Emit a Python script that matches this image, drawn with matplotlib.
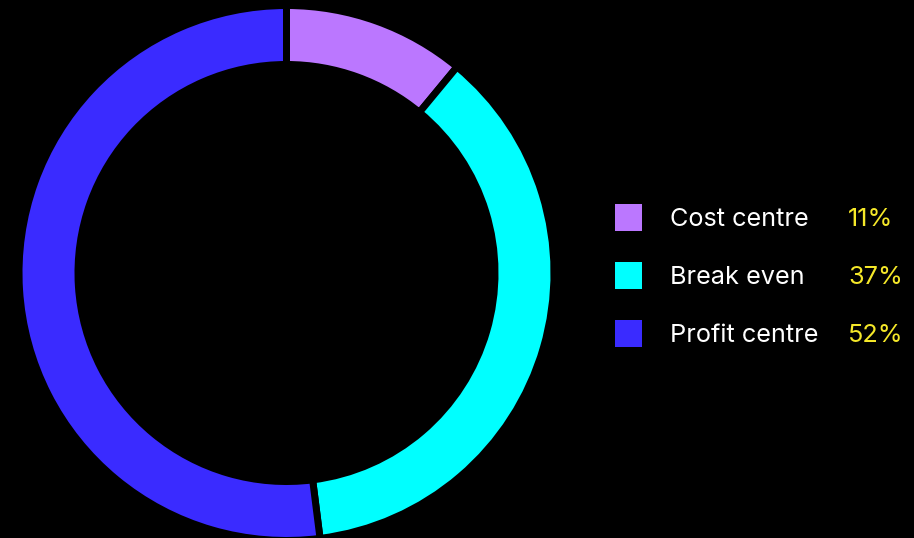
import matplotlib
matplotlib.use("Agg")
import matplotlib.pyplot as plt
from matplotlib.patches import Rectangle

categories = ["Cost centre", "Break even", "Profit centre"]
shares = [11, 37, 52]
colors = ["#BB77FF", "#00FFFF", "#3A2BFF"]
label_color = "#F5E829"

W, H = 914, 538
fig = plt.figure(figsize=(W / 100, H / 100), dpi=100, facecolor="black")
ax = fig.add_axes([0, 0, 1, 1])
ax.set_facecolor("black")

# donut, clockwise from 12 o'clock; thick black edges make the separating gaps
gap = 7  # px
edge_pt = gap * 72 / 100
cx, cy = 286.5, 273
r_out = 264 + gap / 2
r_in = 212 - gap / 2
# y axis is inverted, so counterclock=True turns clockwise on screen
ax.pie(shares, colors=colors, startangle=-90, counterclock=True,
       center=(cx, cy), radius=r_out, frame=True,
       wedgeprops=dict(width=r_out - r_in, edgecolor="black", linewidth=edge_pt))
ax.set_xlim(0, W)
ax.set_ylim(H, 0)
ax.set_aspect("equal")
ax.set_axis_off()

# legend rows
font = "Inter"
row_y = [217.5, 275.5, 333.5]
sq = 27
for name, val, col, y in zip(categories, shares, colors, row_y):
    ax.add_patch(Rectangle((615, y - sq / 2), sq, sq, facecolor=col, edgecolor="none"))
    ax.text(670, y, name, color="white", fontsize=18.2, family=font,
            va="center_baseline", ha="left")
    ax.text(848, y, f"{val}%", color=label_color, fontsize=18.2, family=font,
            va="center_baseline", ha="left")

fig.savefig("out.png", dpi=100, facecolor="black")
